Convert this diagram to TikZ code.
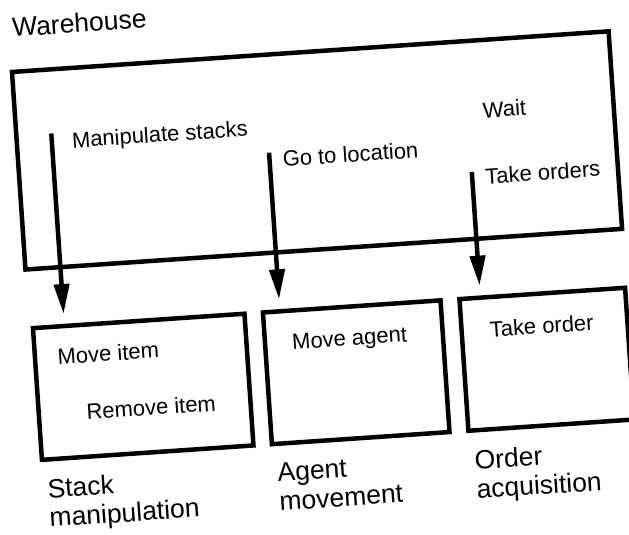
\documentclass[tikz,border=0pt]{standalone}
\usepackage{fontspec}
\setmainfont{Liberation Sans}
\usetikzlibrary{arrows.meta}
\begin{document}
\begin{tikzpicture}[x=1pt,y=1pt,
  frame/.style={draw, line width=4.5pt, outer sep=0pt, inner sep=0pt, anchor=north west},
  inlabel/.style={anchor=base west, inner sep=0pt, font=\fontsize{22}{26}\selectfont},
  outlabel/.style={anchor=base west, inner sep=0pt, align=left, font=\fontsize{26.5}{29}\selectfont},
  flow/.style={line width=4.5pt, -{Triangle[length=30pt,width=15pt]}, shorten >=12pt}]
\useasboundingbox (0,0) rectangle (629,-535);
\begin{scope}[shift={(12,-72)}, rotate=3.9, transform shape]
  % the warehouse and its three parts
  \node[frame, minimum width=598pt, minimum height=198pt] (wh) at (0,0) {};
  \node[frame, minimum width=212pt, minimum height=132pt] (sm) at (3.5,-257) {};
  \node[frame, minimum width=178pt, minimum height=132pt] (am) at (234,-257) {};
  \node[frame, minimum width=166pt, minimum height=132pt] (oa) at (431,-257) {};

  % titles (two-line titles are anchored on their second line)
  \node[outlabel] (whT) at (3,35) {Warehouse};
  \node[outlabel] (smT) at (7,-456.5) {Stack\\manipulation};
  \node[outlabel] (amT) at (237.5,-456) {Agent\\movement};
  \node[outlabel] (oaT) at (435,-457.5) {Order\\acquisition};

  % operations of the warehouse
  \node[inlabel] (ms) at (55,-80) {Manipulate stacks};
  \node[inlabel] (gl) at (264,-113) {Go to location};
  \node[inlabel] (wt) at (467,-78) {Wait};
  \node[inlabel] (to) at (465,-144) {Take orders};

  % operations of the parts
  \node[inlabel] (mi) at (26,-295) {Move item};
  \node[inlabel] (ri) at (51,-352) {Remove item};
  \node[inlabel] (ma) at (261,-296) {Move agent};
  \node[inlabel] (tk) at (459,-297) {Take order};

  % refinement arrows
  \coordinate (s1) at (35,-64);
  \coordinate (s2) at (251,-98);
  \coordinate (s3) at (452,-131);
  \draw[flow] (s1) -- (s1 |- sm.north);
  \draw[flow] (s2) -- (s2 |- am.north);
  \draw[flow] (s3) -- (s3 |- oa.north);
\end{scope}
\end{tikzpicture}
\end{document}
